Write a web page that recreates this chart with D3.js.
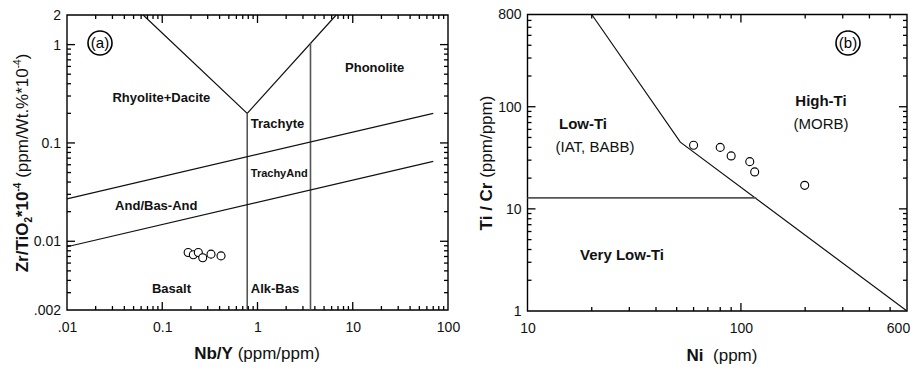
<!DOCTYPE html>
<html>
<head>
<meta charset="utf-8">
<script src="https://d3js.org/d3.v7.min.js"></script>
<style>
  html, body { margin: 0; padding: 0; background: #fff; }
  svg { display: block; font-family: "Liberation Sans", Arial, sans-serif; }
  .lbl path { display: none; }
  .lbl text { font-size: 14px; fill: #111; }
  .pt { fill: #fff; stroke: #000; stroke-width: 1.1px; }
  .field { font-weight: bold; fill: #111; }
</style>
</head>
<body>
<svg id="chart" width="914" height="373"></svg>
<script>
// ---- panel (a): Nb/Y vs Zr/TiO2 ----
const nbY  = [0.187, 0.212, 0.239, 0.266, 0.325, 0.414];
const zrTi = [0.0077, 0.0073, 0.0077, 0.0068, 0.0074, 0.0071];
const aXTicks = [0.01, 0.1, 1, 10, 100];
const aXLabels = [".01", "0.1", "1", "10", "100"];
const aYTicks = [2, 1, 0.1, 0.01, 0.002];
const aYLabels = ["2", "1", "0.1", "0.01", ".002"];
// field boundaries (Nb/Y, Zr/TiO2)
const aLines = [
  { pts: [[0.063, 2], [0.78, 0.2], [6.7, 2]] },
  { pts: [[0.78, 0.2], [0.78, 0.002]], gray: true },
  { pts: [[3.6, 1.04], [3.6, 0.002]], gray: true },
  { pts: [[0.01, 0.027], [70, 0.2]] },
  { pts: [[0.01, 0.0088], [70, 0.065]] }
];
const aFields = [
  { t: "Rhyolite+Dacite", x: 0.03, y: 0.26 },
  { t: "Phonolite", x: 8.3, y: 0.53 },
  { t: "Trachyte", x: 0.85, y: 0.143 },
  { t: "TrachyAnd", x: 0.85, y: 0.045, small: true },
  { t: "And/Bas-And", x: 0.032, y: 0.021 },
  { t: "Basalt", x: 0.078, y: 0.003 },
  { t: "Alk-Bas", x: 0.85, y: 0.003 }
];

// ---- panel (b): Ni vs Ti/Cr ----
const ni   = [60, 80, 90, 110, 116, 199];
const tiCr = [42, 40, 33, 29, 23, 17];
const bXTicks = [10, 100, 600];
const bXLabels = ["10", "100", "600"];
const bYTicks = [800, 100, 10, 1];
const bYLabels = ["800", "100", "10", "1"];
const bLines = [
  { pts: [[20, 800], [52, 45], [600, 1]] },
  { pts: [[10, 12.8], [118, 12.8]], gray: true }
];

const svg = d3.select("#chart");

// 1..9 x 10^n values strictly inside the domain
function logTicks(lo, hi) {
  const out = [];
  for (let e = Math.floor(Math.log10(lo)); e <= Math.ceil(Math.log10(hi)); e++) {
    for (let m = 1; m <= 9; m++) {
      const v = m * Math.pow(10, e);
      if (v > lo * 1.0001 && v < hi / 1.0001) out.push({ v: v, major: m === 1 });
    }
  }
  return out;
}

function panel(cfg) {
  const x = d3.scaleLog().domain(cfg.xDom).range([cfg.x0, cfg.x1]);
  const y = d3.scaleLog().domain(cfg.yDom).range([cfg.y1, cfg.y0]);
  const g = svg.append("g");

  // tick labels
  g.append("g").attr("class", "lbl").attr("transform", `translate(0,${cfg.y1})`)
    .call(d3.axisBottom(x).tickValues(cfg.xTicks).tickSize(0).tickPadding(12)
      .tickFormat((d, i) => cfg.xLabels[i]))
    .selectAll("text").attr("dx", (d, i) => i === cfg.xTicks.length - 1 ? cfg.lastDx : 0);
  g.append("g").attr("class", "lbl").attr("transform", `translate(${cfg.x0},0)`)
    .call(d3.axisLeft(y).tickValues(cfg.yTicks).tickSize(0).tickPadding(6)
      .tickFormat((d, i) => cfg.yLabels[i]));

  // frame
  const fr = d3.path();
  fr.rect(cfg.x0, cfg.y0, cfg.x1 - cfg.x0, cfg.y1 - cfg.y0);
  g.append("path").attr("d", fr.toString())
    .attr("fill", "none").attr("stroke", "#000").attr("stroke-width", 1.4);

  // field boundaries
  const line = d3.line().x(d => x(d[0])).y(d => y(d[1]));
  cfg.lines.forEach(l => {
    g.append("path").attr("d", line(l.pts)).attr("fill", "none")
      .attr("stroke", l.gray ? "#555" : "#111").attr("stroke-width", l.gray ? 1.6 : 1.2);
  });

  g.append("g").selectAll("circle").data(cfg.xs).join("circle")
    .attr("class", "pt")
    .attr("cx", d => x(d)).attr("cy", (d, i) => y(cfg.ys[i])).attr("r", 4);

  // circled panel letter
  g.append("circle").attr("cx", cfg.tag[0]).attr("cy", cfg.tag[1]).attr("r", 12)
    .attr("fill", "none").attr("stroke", "#000").attr("stroke-width", 1.6);
  g.append("text").attr("x", cfg.tag[0]).attr("y", cfg.tag[1] + 5)
    .attr("text-anchor", "middle").attr("font-size", 15).text(cfg.tag[2]);
  return { x, y, g, cfg };
}

const A = panel({
  xDom: [0.01, 100], yDom: [0.002, 2], x0: 67, x1: 448, y0: 15, y1: 310,
  xTicks: aXTicks, xLabels: aXLabels, yTicks: aYTicks, yLabels: aYLabels, lastDx: 0,
  lines: aLines, xs: nbY, ys: zrTi, tag: [100, 43, "(a)"]
});
A.g.append("g").selectAll("text").data(aFields).join("text").attr("class", "field")
  .attr("x", d => A.x(d.x)).attr("y", d => A.y(d.y))
  .attr("font-size", d => d.small ? 11 : 13)
  .text(d => d.t);

const B = panel({
  xDom: [10, 600], yDom: [1, 800], x0: 527.5, x1: 907, y0: 14.5, y1: 311,
  xTicks: bXTicks, xLabels: bXLabels, yTicks: bYTicks, yLabels: bYLabels, lastDx: -9,
  lines: bLines, xs: ni, ys: tiCr, tag: [848, 43, "(b)"]
});
const bLabels = [
  { t: "Low-Ti", x: 583, y: 129, b: true },
  { t: "(IAT, BABB)", x: 595, y: 152, b: false },
  { t: "High-Ti", x: 821, y: 106, b: true },
  { t: "(MORB)", x: 821, y: 129, b: false },
  { t: "Very Low-Ti", x: 622, y: 260, b: true }
];
B.g.append("g").selectAll("text").data(bLabels).join("text")
  .attr("x", d => d.x).attr("y", d => d.y).attr("text-anchor", "middle")
  .attr("font-size", 15).attr("font-weight", d => d.b ? "bold" : "normal").attr("fill", "#111")
  .text(d => d.t);

// inward ticks on all four sides of both panels, drawn last at top level
[A, B].forEach(P => {
  const c = P.cfg;
  logTicks(c.xDom[0], c.xDom[1]).forEach(d => {
    const L = d.major ? 8 : 4, px = P.x(d.v);
    svg.append("line").attr("x1", px).attr("x2", px).attr("y1", c.y1).attr("y2", c.y1 - L)
      .attr("stroke", "#000").attr("stroke-width", 1.3);
    svg.append("line").attr("x1", px).attr("x2", px).attr("y1", c.y0).attr("y2", c.y0 + L)
      .attr("stroke", "#000").attr("stroke-width", 1.3);
  });
  logTicks(c.yDom[0], c.yDom[1]).forEach(d => {
    const L = d.major ? 8 : 4, py = P.y(d.v);
    svg.append("line").attr("x1", c.x0).attr("x2", c.x0 + L).attr("y1", py).attr("y2", py)
      .attr("stroke", "#000").attr("stroke-width", 1.3);
    svg.append("line").attr("x1", c.x1).attr("x2", c.x1 - L).attr("y1", py).attr("y2", py)
      .attr("stroke", "#000").attr("stroke-width", 1.3);
  });
});

// axis titles
svg.append("text").attr("x", 257).attr("y", 359).attr("text-anchor", "middle")
  .attr("font-size", 17).attr("fill", "#111")
  .call(t => { t.append("tspan").attr("font-weight", "bold").text("Nb/Y"); t.append("tspan").text(" (ppm/ppm)"); });
svg.append("text").attr("x", 722).attr("y", 361).attr("text-anchor", "middle")
  .attr("font-size", 17).attr("fill", "#111").attr("xml:space", "preserve")
  .call(t => { t.append("tspan").attr("font-weight", "bold").text("Ni"); t.append("tspan").text("  (ppm)"); });

const yl = svg.append("text").attr("transform", "translate(28,163) rotate(-90)")
  .attr("text-anchor", "middle").attr("font-size", 17).attr("fill", "#111");
yl.append("tspan").attr("font-weight", "bold").text("Zr/TiO");
yl.append("tspan").attr("font-weight", "bold").attr("font-size", 10).attr("dy", 4).text("2");
yl.append("tspan").attr("font-weight", "bold").attr("dy", -4).text("*10");
yl.append("tspan").attr("font-weight", "bold").attr("font-size", 10).attr("dy", -7).text("-4");
yl.append("tspan").attr("dy", 7).text(" (ppm/Wt.%*10");
yl.append("tspan").attr("font-size", 10).attr("dy", -7).text("-4");
yl.append("tspan").attr("dy", 7).text(")");

const yr = svg.append("text").attr("transform", "translate(492,163) rotate(-90)")
  .attr("text-anchor", "middle").attr("font-size", 17).attr("fill", "#111");
yr.append("tspan").attr("font-weight", "bold").text("Ti / Cr");
yr.append("tspan").text(" (ppm/ppm)");
</script>
</body>
</html>
